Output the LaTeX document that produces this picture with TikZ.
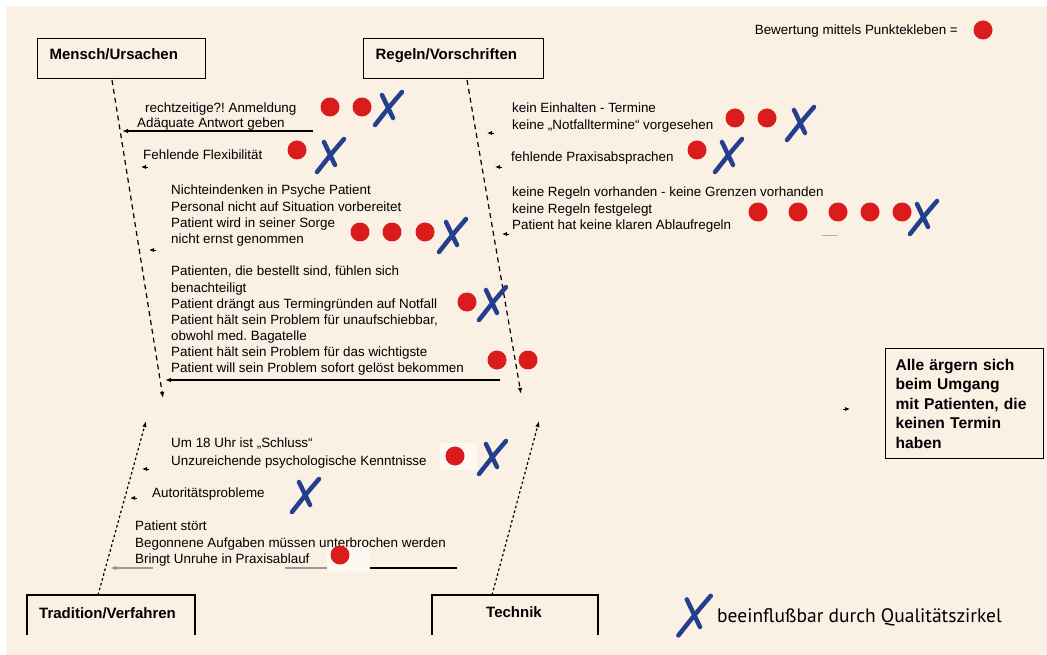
\documentclass[tikz,border=0pt]{standalone}
\usepackage{fontspec}
\setmainfont{Liberation Sans}
\newfontfamily\legendfont{PT Sans}
\usetikzlibrary{arrows.meta}
\frenchspacing
\definecolor{papier}{HTML}{FAF0E4}
\definecolor{hell}{HTML}{FDF8F1}
\definecolor{punktrot}{HTML}{DA1C1C}
\definecolor{kreuzblau}{HTML}{243F8E}
\tikzset{kreuz/.pic={
  \draw[kreuzblau,line width=4.5pt,line cap=round] (-6,-13) -- (5,10);
  \draw[kreuzblau,line width=4.5pt,line cap=round] (14,-16) .. controls (2,-2) .. (-13,17);
}}
\begin{document}
\begin{tikzpicture}[x=1pt,y=-1pt,
  box/.style={draw,line width=1.2pt,font=\fontsize{15}{18}\selectfont\bfseries,align=left,inner xsep=12pt,text width=144pt,minimum height=40pt,text depth=10pt,anchor=north west},
  txt/.style={inner sep=0pt,anchor=north west,align=left,font=\fontsize{13.4}{16.1}\selectfont},
  punkt/.style={circle,fill=punktrot,inner sep=0pt,minimum size=19pt},
  ast/.style={line width=1.1pt,-{Latex[length=6pt,width=4.5pt]}},
  spine/.style={line width=1.2pt,dash pattern=on 5pt off 4pt,-{Latex[length=6pt,width=4.5pt]}},
  spinedot/.style={line width=1.2pt,dash pattern=on 2.5pt off 2.5pt,-{Latex[length=6pt,width=4.5pt]}},
  spitze/.style={line width=0.8pt,-{Latex[length=5pt,width=4pt]}}]

  \useasboundingbox (0,0) rectangle (1047,655);
  \fill[papier] (6,6) rectangle (1047,655);

  \node[box] (mensch) at (37,38) {Mensch/Ursachen};
  \node[box,text width=156pt] (regeln) at (363,38) {Regeln/Vorschriften};
  \draw[line width=1.2pt] (27,635) |- (195,595) -- (195,635);
  \draw[line width=1.2pt] (432,635) |- (598,595) -- (598,635);
  \node[txt,anchor=west,font=\fontsize{15}{18}\selectfont\bfseries] (tradition) at (39,613) {Tradition/Verfahren};
  \node[txt,anchor=center,font=\fontsize{15}{18}\selectfont\bfseries] (technik) at (514,612) {Technik};

  \node[draw,line width=1.2pt,anchor=north west,align=left,inner xsep=10pt,text width=138pt,minimum height=110pt,font=\fontsize{15.6}{19.5}\selectfont\bfseries] (wirkung) at (885,348) {Alle ärgern sich\\beim Umgang\\mit Patienten, die\\keinen Termin\\haben};

  \coordinate (m0) at (112,80);
  \coordinate (m1) at (163,398);
  \coordinate (r0) at (467,80);
  \coordinate (r1) at (521,394);
  \coordinate (t0) at (98,595);
  \coordinate (t1) at (146,421);
  \coordinate (k0) at (492,595);
  \coordinate (k1) at (539,421);
  \draw[spine] (m0) -- (m1);
  \draw[spine] (r0) -- (r1);
  \draw[spinedot] (t0) -- (t1);
  \draw[spinedot] (k0) -- (k1);

  \coordinate (w0) at (843,409);
  \coordinate (w1) at (850,409);
  \draw[spitze] (w0) -- (w1);

  \coordinate (a1) at (313,131);
  \coordinate (b1) at (122,131);
  \coordinate (a2) at (148,167);
  \coordinate (b2) at (141,167);
  \coordinate (a3) at (156,250);
  \coordinate (b3) at (149,250);
  \coordinate (a4) at (500,380);
  \coordinate (b4) at (165,380);
  \draw[ast] (a1) -- (b1);
  \draw[spitze] (a2) -- (b2);
  \draw[spitze] (a3) -- (b3);
  \draw[ast] (a4) -- (b4);

  \node[txt] (m1a) at (145,103) {rechtzeitige?! Anmeldung};
  \node[txt] (m1b) at (137,118) {Adäquate Antwort geben};
  \node[txt] (m2) at (143,150) {Fehlende Flexibilität};
  \node[txt] (m3) at (171,185) {Nichteindenken in Psyche Patient\\Personal nicht auf Situation vorbereitet\\Patient wird in seiner Sorge\\nicht ernst genommen};
  \node[txt] (m4) at (171,266) {Patienten, die bestellt sind, fühlen sich\\benachteiligt\\Patient drängt aus Termingründen auf Notfall\\Patient hält sein Problem für unaufschiebbar,\\obwohl med. Bagatelle\\Patient hält sein Problem für das wichtigste\\Patient will sein Problem sofort gelöst bekommen};

  \coordinate (c1) at (494,133);
  \coordinate (d1) at (487,133);
  \coordinate (c2) at (502,167);
  \coordinate (d2) at (495,167);
  \coordinate (c3) at (509,234);
  \coordinate (d3) at (502,234);
  \draw[spitze] (c1) -- (d1);
  \draw[spitze] (c2) -- (d2);
  \draw[spitze] (c3) -- (d3);

  \node[txt] (r1t) at (512,103) {kein Einhalten - Termine\\keine „Notfalltermine“ vorgesehen};
  \node[txt] (r2t) at (511,152) {fehlende Praxisabsprachen};
  \node[txt] (r3t) at (512,187) {keine Regeln vorhanden - keine Grenzen vorhanden\\keine Regeln festgelegt\\Patient hat keine klaren Ablaufregeln};
  \draw[black!30,line width=1pt] (822,236) -- (838,236);

  \coordinate (e1) at (149,469);
  \coordinate (f1) at (142,469);
  \coordinate (e2) at (137,498);
  \coordinate (f2) at (130,498);
  \coordinate (e3) at (457,568);
  \coordinate (g3) at (370,568);
  \coordinate (h3) at (327,568);
  \coordinate (f3) at (110,568);
  \draw[spitze] (e1) -- (f1);
  \draw[spitze] (e2) -- (f2);
  \draw[ast,black!40] (h3) -- (f3);
  \draw[line width=1.1pt] (e3) -- (g3);
  \fill[papier] (153,564) rectangle (285,573);
  \fill[hell] (440,443) rectangle (477,470);
  \fill[hell] (327,544) rectangle (370,572);

  \node[txt,font=\fontsize{13.4}{18}\selectfont] (t1t) at (171,438) {Um 18 Uhr ist „Schluss“\\Unzureichende psychologische Kenntnisse};
  \node[txt] (t2t) at (152,488) {Autoritätsprobleme};
  \node[txt] (t3t) at (135,521) {Patient stört\\Begonnene Aufgaben müssen unterbrochen werden\\Bringt Unruhe in Praxisablauf};

  \node[punkt] (p1) at (330,107) {};
  \node[punkt] (p2) at (362,107) {};
  \node[punkt] (p3) at (297,150) {};
  \node[punkt] (p4) at (360,232) {};
  \node[punkt] (p5) at (392,232) {};
  \node[punkt] (p6) at (425,232) {};
  \node[punkt] (p7) at (467,302) {};
  \node[punkt] (p8) at (497,360) {};
  \node[punkt] (p9) at (528,360) {};
  \node[punkt] (p10) at (735,118) {};
  \node[punkt] (p11) at (767,118) {};
  \node[punkt] (p12) at (697,150) {};
  \node[punkt] (p13) at (758,212) {};
  \node[punkt] (p14) at (798,212) {};
  \node[punkt] (p15) at (838,212) {};
  \node[punkt] (p16) at (870,212) {};
  \node[punkt] (p17) at (902,212) {};
  \node[punkt] (p18) at (455,456) {};
  \node[punkt] (p19) at (340,555) {};

  \pic at (388,108) {kreuz};
  \pic at (330,155) {kreuz};
  \pic at (452,235) {kreuz};
  \pic at (492,303) {kreuz};
  \pic at (800,123) {kreuz};
  \pic at (728,155) {kreuz};
  \pic at (923,217) {kreuz};
  \pic at (492,457) {kreuz};
  \pic at (305,495) {kreuz};

  \node[txt,anchor=base east] (bewertung) at (958,35) {Bewertung mittels Punktekleben =};
  \node[punkt] (p0) at (983,30) {};

  \pic[scale=1.2] at (694,615) {kreuz};
  \node[inner sep=0pt,anchor=base west,font=\legendfont\fontsize{19.5}{22}\selectfont] (legende) at (717,622) {beeinflußbar durch Qualitätszirkel};
\end{tikzpicture}
\end{document}
